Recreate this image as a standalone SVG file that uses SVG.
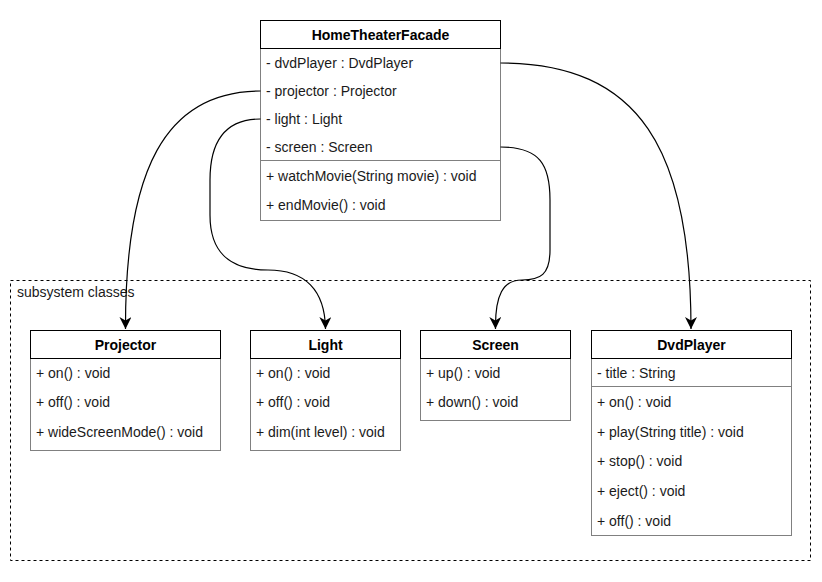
<svg xmlns="http://www.w3.org/2000/svg" width="822" height="582" viewBox="0 0 822 582">
<defs>
<style>
.hdr{fill:#fff;stroke:#000;stroke-width:1}
.body{fill:#fff;stroke:#808080;stroke-width:1}
.sep{stroke:#808080;stroke-width:1}
.t{font-family:"Liberation Sans",Arial,sans-serif;font-size:14px;fill:#1a1a1a}
.b{font-family:"Liberation Sans",Arial,sans-serif;font-size:14px;font-weight:bold;fill:#000;text-anchor:middle}
.c{fill:none;stroke:#000;stroke-width:1.2}
</style>
<marker id="arr" markerUnits="userSpaceOnUse" markerWidth="12" markerHeight="12" refX="10" refY="5" orient="auto" viewBox="0 0 10 10">
<path d="M0,0 L10,5 L0,10 L3,5 Z" fill="#000"/>
</marker>
</defs>
<rect width="822" height="582" fill="#fff"/>

<g id="subsystem">
<rect x="10.5" y="280.5" width="800" height="280" fill="none" stroke="#000" stroke-dasharray="3,3"/>
<text class="t" x="17" y="297">subsystem classes</text>
</g>

<g id="HomeTheaterFacade">
<rect class="body" x="260.5" y="48.5" width="240" height="172"/>
<rect class="hdr" x="260.5" y="20.5" width="240" height="28"/>
<text class="b" x="380.5" y="40">HomeTheaterFacade</text>
<text class="t" x="266" y="68">- dvdPlayer : DvdPlayer</text>
<text class="t" x="266" y="96">- projector : Projector</text>
<text class="t" x="266" y="124">- light : Light</text>
<text class="t" x="266" y="152">- screen : Screen</text>
<line class="sep" x1="260.5" y1="160.5" x2="500.5" y2="160.5"/>
<text class="t" x="266" y="181">+ watchMovie(String movie) : void</text>
<text class="t" x="266" y="210">+ endMovie() : void</text>
</g>

<g id="Projector">
<rect class="body" x="30.5" y="358.5" width="190" height="92"/>
<rect class="hdr" x="30.5" y="330.5" width="190" height="28"/>
<text class="b" x="125.5" y="350">Projector</text>
<text class="t" x="36" y="378">+ on() : void</text>
<text class="t" x="36" y="407">+ off() : void</text>
<text class="t" x="36" y="437">+ wideScreenMode() : void</text>
</g>

<g id="Light">
<rect class="body" x="250.5" y="358.5" width="150" height="92"/>
<rect class="hdr" x="250.5" y="330.5" width="150" height="28"/>
<text class="b" x="325.5" y="350">Light</text>
<text class="t" x="256" y="378">+ on() : void</text>
<text class="t" x="256" y="407">+ off() : void</text>
<text class="t" x="256" y="437">+ dim(int level) : void</text>
</g>

<g id="Screen">
<rect class="body" x="420.5" y="358.5" width="150" height="62"/>
<rect class="hdr" x="420.5" y="330.5" width="150" height="28"/>
<text class="b" x="495.5" y="350">Screen</text>
<text class="t" x="426" y="378">+ up() : void</text>
<text class="t" x="426" y="407">+ down() : void</text>
</g>

<g id="DvdPlayer">
<rect class="body" x="591.5" y="358.5" width="200" height="177"/>
<rect class="hdr" x="591.5" y="330.5" width="200" height="28"/>
<text class="b" x="691.5" y="350">DvdPlayer</text>
<text class="t" x="597" y="378">- title : String</text>
<line class="sep" x1="591.5" y1="386.5" x2="791.5" y2="386.5"/>
<text class="t" x="597" y="407">+ on() : void</text>
<text class="t" x="597" y="437">+ play(String title) : void</text>
<text class="t" x="597" y="466">+ stop() : void</text>
<text class="t" x="597" y="496">+ eject() : void</text>
<text class="t" x="597" y="526">+ off() : void</text>
</g>

<g id="connectors">
<path class="c" marker-end="url(#arr)" d="M500.5,63 C640,63 691,150 691,329"/>
<path class="c" marker-end="url(#arr)" d="M500.5,147 C540,147 550,165 550,200 L550,250 C550,275 540,280 522,280 C503,280 495,295 495.5,329"/>
<path class="c" marker-end="url(#arr)" d="M260.5,91 C165,91 125,170 125.5,329"/>
<path class="c" marker-end="url(#arr)" d="M260.5,119 C222,119 210,145 210,180 L210,215 C210,255 232,270 268,270 C305,270 325,290 325.5,329"/>
</g>
</svg>
